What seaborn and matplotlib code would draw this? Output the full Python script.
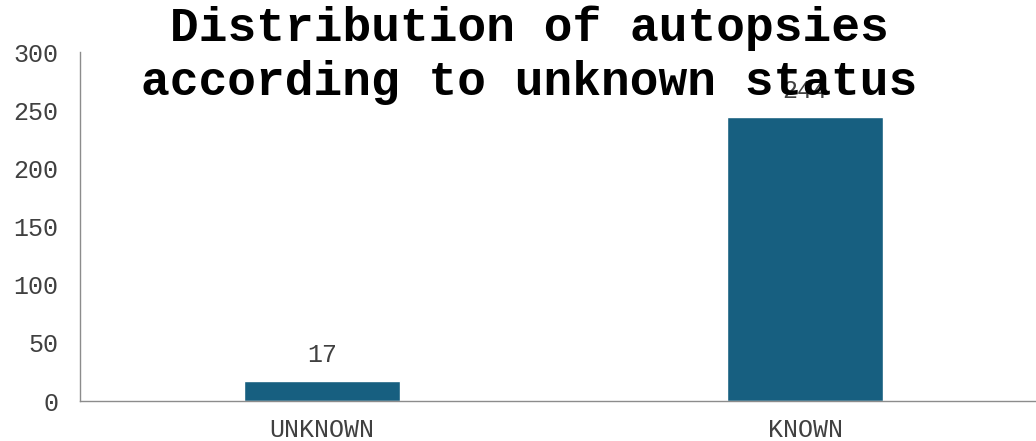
import matplotlib
matplotlib.use("Agg")
import matplotlib.pyplot as plt
import seaborn as sns
import pandas as pd

categories = ["UNKNOWN", "KNOWN"]
counts = [17, 244]

sns.set_theme(style="white")
plt.rcParams["font.family"] = ["Liberation Mono", "DejaVu Sans Mono"]

df = pd.DataFrame({"status": categories, "count": counts})

fig = plt.figure(figsize=(10.36, 4.41), dpi=100)
ax = fig.add_axes([0.0777, 0.0907, 0.9325, 0.7913])

sns.barplot(data=df, x="status", y="count", color="#175f80", saturation=1,
            width=0.323, ax=ax)

ax.set_ylim(0, 300)
ax.set_xlim(-0.5, 1.5)
ax.set_yticks(range(0, 301, 50))
ax.set_xlabel("")
ax.set_ylabel("")
ax.tick_params(axis="both", length=0, labelsize=18, labelcolor="#404040")
ax.tick_params(axis="y", pad=16)
ax.tick_params(axis="x", pad=12)

for name in ["top", "right"]:
    ax.spines[name].set_visible(False)
for name in ["left", "bottom"]:
    ax.spines[name].set_color("#8c8c8c")
    ax.spines[name].set_linewidth(1.0)

for i, v in enumerate(counts):
    ax.annotate(str(v), (i, v), xytext=(0, 10), textcoords="offset points",
                ha="center", va="bottom", fontsize=18, color="#404040")

fig.text(0.511, 0.875, "Distribution of autopsies\naccording to unknown status",
         ha="center", va="center", fontsize=34.5, fontweight="bold",
         color="#000000", linespacing=1.25)

fig.savefig("out.png", dpi=100)
